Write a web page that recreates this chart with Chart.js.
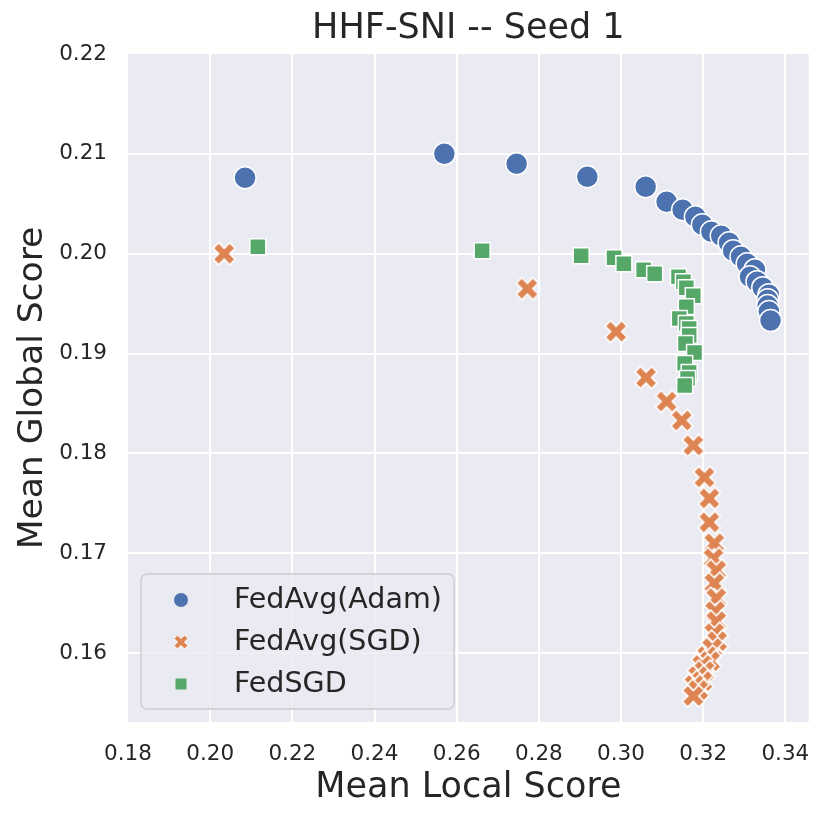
<!DOCTYPE html>
<html>
<head>
<meta charset="utf-8">
<script src="https://cdn.jsdelivr.net/npm/chart.js@4.4.0/dist/chart.umd.min.js"></script>
<style>
  html, body { margin: 0; padding: 0; background: #fff; }
  #wrap { width: 830px; height: 822px; }
</style>
</head>
<body>
<div id="wrap"><canvas id="c"></canvas></div>
<script>
// values
var seriesNames = ["FedAvg(Adam)", "FedAvg(SGD)", "FedSGD"];

var adamLocal = [0.2085, 0.2570, 0.2746, 0.2918, 0.3060, 0.3111, 0.3150, 0.3181, 0.3198, 0.3220, 0.3244, 0.3263,
  0.3273, 0.3292, 0.3307, 0.3326, 0.3314, 0.3331, 0.3345, 0.3360, 0.3357, 0.3357, 0.3360, 0.3364];
var adamGlobal = [0.2076, 0.2100, 0.2090, 0.2077, 0.2067, 0.2052, 0.2044, 0.2037, 0.2029, 0.2022, 0.2018, 0.2011,
  0.2003, 0.1997, 0.1990, 0.1984, 0.1977, 0.1972, 0.1966, 0.1959, 0.1954, 0.1948, 0.1942, 0.1933];

var sgdLocal = [0.2034, 0.2772, 0.2988, 0.3061, 0.3111, 0.3148, 0.3176, 0.3203, 0.3215, 0.3215, 0.3227, 0.3225,
  0.3232, 0.3227, 0.3232, 0.3229, 0.3232, 0.3227, 0.3234, 0.3222, 0.3210, 0.3217, 0.3198, 0.3203, 0.3188,
  0.3198, 0.3179, 0.3188, 0.3176];
var sgdGlobal = [0.2000, 0.1965, 0.1922, 0.1876, 0.1852, 0.1833, 0.1808, 0.1776, 0.1755, 0.1731, 0.1710, 0.1695,
  0.1683, 0.1670, 0.1655, 0.1642, 0.1632, 0.1620, 0.1612, 0.1605, 0.1597, 0.1592, 0.1588, 0.1582, 0.1577,
  0.1572, 0.1568, 0.1563, 0.1557];

var fedsgdLocal = [0.2116, 0.2662, 0.2903, 0.2983, 0.3007, 0.3055, 0.3082, 0.3140, 0.3152, 0.3159, 0.3176,
  0.3159, 0.3142, 0.3159, 0.3166, 0.3166, 0.3157, 0.3179, 0.3155, 0.3166, 0.3162, 0.3155];
var fedsgdGlobal = [0.2007, 0.2003, 0.1998, 0.1996, 0.1990, 0.1984, 0.1980, 0.1977, 0.1972, 0.1966, 0.1958,
  0.1947, 0.1935, 0.1930, 0.1925, 0.1918, 0.1910, 0.1901, 0.1890, 0.1881, 0.1875, 0.1868];

var xTicks = [0.18, 0.20, 0.22, 0.24, 0.26, 0.28, 0.30, 0.32, 0.34];
var yTicks = [0.16, 0.17, 0.18, 0.19, 0.20, 0.21, 0.22];

var BLUE = "#4C72B0", ORANGE = "#DD8452", GREEN = "#55A868";
var INK = "#262626";
var FONT = "'DejaVu Sans', sans-serif";

function zip(xs, ys) {
  return xs.map(function(x, i) { return { x: x, y: ys[i] }; });
}

// seaborn's filled "X" marker
function makeX(size, color, edge) {
  var pad = Math.ceil(edge) + 1;
  var cv = document.createElement("canvas");
  cv.width = cv.height = size + pad * 2;
  var g = cv.getContext("2d");
  var pts = [[0.25, 0], [0.5, 0.25], [0.75, 0], [1, 0.25], [0.75, 0.5], [1, 0.75],
    [0.75, 1], [0.5, 0.75], [0.25, 1], [0, 0.75], [0.25, 0.5], [0, 0.25]];
  g.beginPath();
  pts.forEach(function(p, i) {
    var px = pad + p[0] * size, py = pad + p[1] * size;
    if (i === 0) g.moveTo(px, py); else g.lineTo(px, py);
  });
  g.closePath();
  g.fillStyle = color;
  g.fill();
  g.lineWidth = edge;
  g.strokeStyle = "#fff";
  g.lineJoin = "miter";
  g.stroke();
  return cv;
}

var xMark = makeX(22, ORANGE, 1.6);
var xMarkSmall = makeX(14, ORANGE, 1);

var plotBg = {
  id: "plotBg",
  beforeDraw: function(chart) {
    var a = chart.chartArea, ctx = chart.ctx;
    ctx.save();
    ctx.fillStyle = "#EAEAF2";
    ctx.fillRect(a.left, a.top, a.right - a.left, a.bottom - a.top);
    ctx.restore();
  }
};

// legend box in the lower left of the axes, like matplotlib's
var boxLegend = {
  id: "boxLegend",
  afterDatasetsDraw: function(chart) {
    var ctx = chart.ctx, a = chart.chartArea;
    var x0 = a.left + 13, y0 = a.bottom - 148, w = 313, h = 135;
    ctx.save();
    ctx.beginPath();
    ctx.roundRect(x0, y0, w, h, 6);
    ctx.fillStyle = "rgba(234,234,242,0.8)";
    ctx.fill();
    ctx.lineWidth = 1.3;
    ctx.strokeStyle = "#cccccc";
    ctx.stroke();

    ctx.font = "28.5px " + FONT;
    ctx.fillStyle = INK;
    ctx.textBaseline = "middle";
    chart.data.datasets.forEach(function(ds, i) {
      var cy = y0 + 26 + i * 42, cx = x0 + 40;
      ctx.save();
      if (i === 0) {
        ctx.beginPath();
        ctx.arc(cx, cy, 7, 0, Math.PI * 2);
        ctx.fillStyle = BLUE;
        ctx.fill();
      } else if (i === 1) {
        ctx.drawImage(xMarkSmall, cx - xMarkSmall.width / 2, cy - xMarkSmall.height / 2);
      } else {
        ctx.fillStyle = GREEN;
        ctx.fillRect(cx - 5.5, cy - 5.5, 11, 11);
      }
      ctx.restore();
      ctx.fillText(ds.label, x0 + 93, cy + 1);
    });
    ctx.restore();
  }
};

function hideEdge(edgeVal) {
  return function(c) {
    if (c.tick && Math.abs(c.tick.value - edgeVal) < 1e-9) return "rgba(0,0,0,0)";
    return "#ffffff";
  };
}

new Chart(document.getElementById("c"), {
  type: "scatter",
  data: {
    datasets: [
      {
        label: seriesNames[0],
        data: zip(adamLocal, adamGlobal),
        pointStyle: "circle",
        pointRadius: 11,
        pointHoverRadius: 11,
        backgroundColor: BLUE,
        borderColor: "#fff",
        borderWidth: 1.5
      },
      {
        label: seriesNames[1],
        data: zip(sgdLocal, sgdGlobal),
        pointStyle: xMark,
        pointRadius: 11,
        pointHoverRadius: 11,
        backgroundColor: ORANGE,
        borderColor: "#fff"
      },
      {
        label: seriesNames[2],
        data: zip(fedsgdLocal, fedsgdGlobal),
        pointStyle: "rect",
        pointRadius: 11.3,
        pointHoverRadius: 11.3,
        backgroundColor: GREEN,
        borderColor: "#fff",
        borderWidth: 1.5
      }
    ]
  },
  options: {
    responsive: true,
    maintainAspectRatio: false,
    animation: false,
    events: [],
    layout: { padding: { left: 0, right: 17, top: 0, bottom: 0 } },
    plugins: {
      legend: { display: false },
      tooltip: { enabled: false },
      title: {
        display: true,
        fullSize: false,
        text: "HHF-SNI -- Seed 1",
        color: INK,
        font: { family: FONT, size: 35, weight: "normal", lineHeight: 1.2 },
        padding: { top: 8, bottom: 4 }
      }
    },
    scales: {
      x: {
        type: "linear",
        min: 0.18,
        max: 0.3457,
        afterFit: function(s) { s.height = 100; },
        afterBuildTicks: function(s) { s.ticks = xTicks.map(function(v) { return { value: v }; }); },
        ticks: {
          color: INK,
          font: { family: FONT, size: 21.5 },
          padding: 20,
          maxRotation: 0,
          autoSkip: false,
          callback: function(v) { return v.toFixed(2); }
        },
        grid: { color: hideEdge(0.18), lineWidth: 2, drawTicks: false },
        border: { display: false },
        title: {
          display: true,
          text: "Mean Local Score",
          color: INK,
          font: { family: FONT, size: 35, lineHeight: 1.2 },
          padding: { top: 0, bottom: 13 }
        }
      },
      y: {
        type: "linear",
        min: 0.1531,
        max: 0.22,
        afterFit: function(s) { s.width = 128; },
        afterBuildTicks: function(s) { s.ticks = yTicks.map(function(v) { return { value: v }; }); },
        ticks: {
          color: INK,
          font: { family: FONT, size: 21.5 },
          padding: 21,
          autoSkip: false,
          callback: function(v) { return v.toFixed(2); }
        },
        grid: { color: hideEdge(0.22), lineWidth: 2, drawTicks: false },
        border: { display: false },
        title: {
          display: true,
          text: "Mean Global Score",
          color: INK,
          font: { family: FONT, size: 34.5, lineHeight: 1.2 },
          padding: { top: 12, bottom: 0 }
        }
      }
    }
  },
  plugins: [plotBg, boxLegend]
});
</script>
</body>
</html>
